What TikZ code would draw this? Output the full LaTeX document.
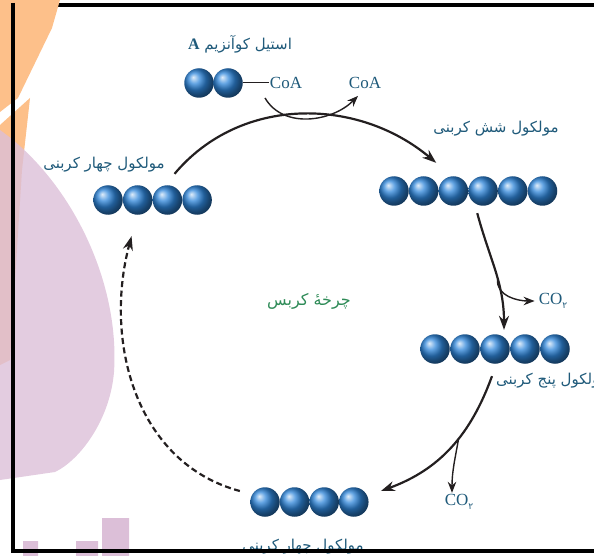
\documentclass[tikz,border=0pt]{standalone}
\usepackage{fontspec}
\setmainfont{Liberation Serif}
\newfontfamily\fa[Script=Arabic]{DejaVu Sans}
\usetikzlibrary{arrows.meta,positioning,fit}
\TeXXeTstate=1
\definecolor{ink}{HTML}{231F20}
\definecolor{sphere}{HTML}{2F86DA}
\definecolor{label}{HTML}{1F5A7A}
\definecolor{krebs}{HTML}{2E8B57}
\definecolor{wmorange}{HTML}{FDC08A}
\definecolor{wmlilac}{HTML}{DCBFD8}

\begin{document}
\begin{tikzpicture}[x=1pt,y=-1pt,
  ball/.style={circle,minimum size=29.5pt,inner sep=0pt,ball color=sphere},
  chain/.style={inner sep=0pt},
  fa/.style={text=label,font=\fa\fontsize{15}{17}\selectfont,inner sep=1pt},
  chem/.style={text=label,font=\fontsize{17}{19}\selectfont,inner sep=1pt},
  arr/.style={draw=ink,line width=2.2pt,-{Stealth[length=14pt,width=10pt]}},
  side/.style={draw=ink,line width=1.4pt,-{Stealth[length=11pt,width=8.5pt]}}]
\useasboundingbox (0,0) rectangle (594,556);
\clip (0,0) rectangle (594,556);
\fill[wmorange] (0,125) -- (30,98) -- (22,170) -- (10,360) -- (0,365) -- cycle;
\fill[wmlilac,opacity=.8] (0,130) .. controls (70,180) and (120,280) .. (114,372) .. controls (110,420) and (80,460) .. (55,472) -- (0,480) -- cycle;
\fill[wmlilac] (23,541) rectangle (38,556) (76,541) rectangle (98,556) (102,518) rectangle (129,556);

\foreach \i in {1,2} \node[ball] (two\i) at ({199+29*(\i-1)},83) {};
\foreach \i in {1,...,6} \node[ball] (six\i) at ({394+29.7*(\i-1)},191) {};
\foreach \i in {1,...,5} \node[ball] (five\i) at ({435+30*(\i-1)},349) {};
\foreach \i in {1,...,4} \node[ball] (bottom\i) at ({265+29.6*(\i-1)},502) {};
\foreach \i in {1,...,4} \node[ball] (left\i) at ({108+29.7*(\i-1)},200) {};
\node[chain,fit=(six1)(six6)] (six) {};
\node[chain,fit=(five1)(five5)] (five) {};
\node[chain,fit=(bottom1)(bottom4)] (bottom4) {};
\node[chain,fit=(left1)(left4)] (left4) {};

\node[fa] (acetyl) at (240,44) {\beginR استیل کوآنزیم {\rmfamily\bfseries\fontsize{16}{18}\selectfont A}\endR};
\node[chem] (coa1) at (286,83) {CoA};
\node[chem] (coa2) at (365,83) {CoA};
\draw[ink,line width=1pt] (two2.east) -- (coa1.west);
\node[fa] (sixlbl) at (496,129) {\beginR مولکول شش کربنی\endR};
\node[fa] (leftlbl) at (104,165) {\beginR مولکول چهار کربنی\endR};
\node[fa,anchor=west] (fivelbl) at (495,381) {\beginR مولکول پنج کربنی\endR};
\node[fa] (bottomlbl) at (303,547) {\beginR مولکول چهار کربنی\endR};
\node[fa,text=krebs,font=\fa\fontsize{16}{18}\selectfont] (cycle) at (309,301) {\beginR چرخهٔ کربس\endR};
\node[chem] (co2a) at (553,301) {CO\raisebox{-.6ex}{\fa\fontsize{9}{9}\selectfont ۲}};
\node[chem] (co2b) at (459,502) {CO\raisebox{-.6ex}{\fa\fontsize{9}{9}\selectfont ۲}};

\draw[arr] ([shift={(22pt,11pt)}]left4.north) to[out=50,in=140] ([shift={(-32pt,13pt)}]six.north);
\draw[side] ([shift={(-21pt,-8pt)}]coa1.south) to[out=-60,in=-135] ([shift={(-7pt,-6pt)}]coa2.south);
\draw[arr] ([shift={(9pt,-7pt)}]six.south) to[out=-75,in=90] coordinate[pos=.58] (fork1) ([shift={(9pt,4pt)}]five.north);
\draw[side] (fork1) to[out=-95,in=180] ([xshift=-3pt]co2a.west);
\draw[arr] ([shift={(-3pt,-12pt)}]five.south) to[out=-110,in=20] coordinate[pos=.42] (fork2) ([shift={(12pt,11pt)}]bottom4.east);
\draw[side] (fork2) to[out=-100,in=90] ([xshift=-7pt]co2b.north);
\draw[arr,dash pattern=on 6pt off 3.5pt] ([shift={(-10pt,11pt)}]bottom4.west) to[out=165,in=-105] ([shift={(-21pt,-21pt)}]left4.south);

\draw[line width=4pt] (594,5) -- (11,5) (11,551) -- (594,551);
\fill[wmorange] (0,0) -- (60,0) -- (52,28) -- (18,98) -- (0,112) -- cycle;
\draw[line width=4pt] (13,3) -- (13,553);
\end{tikzpicture}
\end{document}
